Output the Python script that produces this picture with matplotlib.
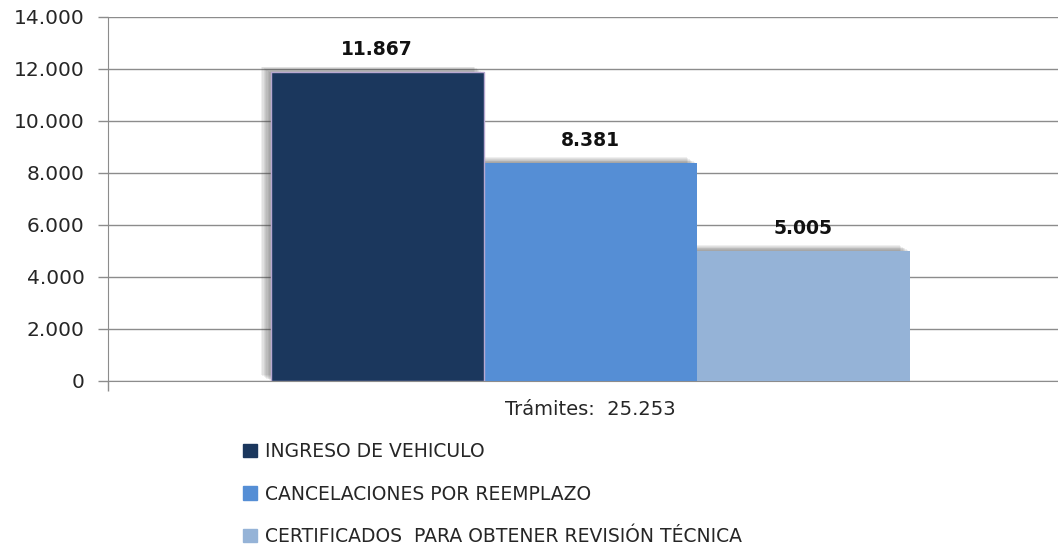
import matplotlib
matplotlib.use("Agg")
import matplotlib.pyplot as plt
import matplotlib.patheffects as pe
from matplotlib.ticker import FuncFormatter
from matplotlib.patches import Patch

categories = ["Trámites:  25.253"]
series_names = ["INGRESO DE VEHICULO", "CANCELACIONES POR REEMPLAZO",
                "CERTIFICADOS  PARA OBTENER REVISIÓN TÉCNICA"]
series_values = [11867, 8381, 5005]
series_colors = ["#1B375D", "#558ED5", "#95B3D7"]
y_ticks = [0, 2000, 4000, 6000, 8000, 10000, 12000, 14000]

def fmt(v, pos=None):
    return f"{int(v):,}".replace(",", ".")

plt.rcParams['font.family'] = ['DejaVu Sans']

fig = plt.figure(figsize=(10.58, 5.48), dpi=100)
ax = fig.add_axes([108/1058, 1-381/548, 950/1058, (381-17)/548])

shadow = [pe.SimplePatchShadow(offset=(-k, 0.6 * k), shadow_rgbFace="#3a3a3a", alpha=0.08)
          for k in range(7, 0, -1)] + [pe.Normal()]

offsets = [-1, 0, 1]
for i, (off, name, val, col) in enumerate(zip(offsets, series_names, series_values, series_colors)):
    ax.bar(off, val, width=1.0, color=col, zorder=5 - i,
           edgecolor="#B8A8D0" if off == -1 else col, linewidth=1.0 if off == -1 else 0,
           path_effects=shadow)
    ax.text(off, val + 500, fmt(val), ha="center", va="bottom", fontsize=13.5,
            fontweight="bold", color="#111111", zorder=6)

xmin, xmax = -2.263, 2.197
ax.set_xlim(xmin, xmax)
ax.set_ylim(0, 14000)
ax.set_yticks(y_ticks)
ax.yaxis.set_major_formatter(FuncFormatter(fmt))
ax.set_xticks([0])
ax.set_xticklabels(categories)
ax.set_xticks([xmin], minor=True)
ax.tick_params(axis="y", labelsize=14.5, labelcolor="#262626", length=7, width=1,
               direction="out", color="#8C8C8C", pad=10)
ax.tick_params(axis="x", which="major", labelsize=14, labelcolor="#262626", length=0, pad=14)
ax.tick_params(axis="x", which="minor", length=7, width=1, color="#8C8C8C", direction="out")
ax.grid(axis="y", color="#8C8C8C", linewidth=1.0, zorder=0)
for s in ["top", "right"]:
    ax.spines[s].set_visible(False)
ax.spines["left"].set_color("#8C8C8C")
ax.spines["bottom"].set_color("#8C8C8C")
ax.set_axisbelow(True)

handles = [Patch(facecolor=c, edgecolor=c) for c in series_colors]
fig.legend(handles, series_names, loc="upper left", bbox_to_anchor=(230/1058, 1-429/548),
           frameon=False, fontsize=13.5, handlelength=0.75, handleheight=0.75,
           handletextpad=0.4, labelspacing=1.25, labelcolor="#262626", borderpad=0.2)

fig.savefig("out.png", dpi=100)
